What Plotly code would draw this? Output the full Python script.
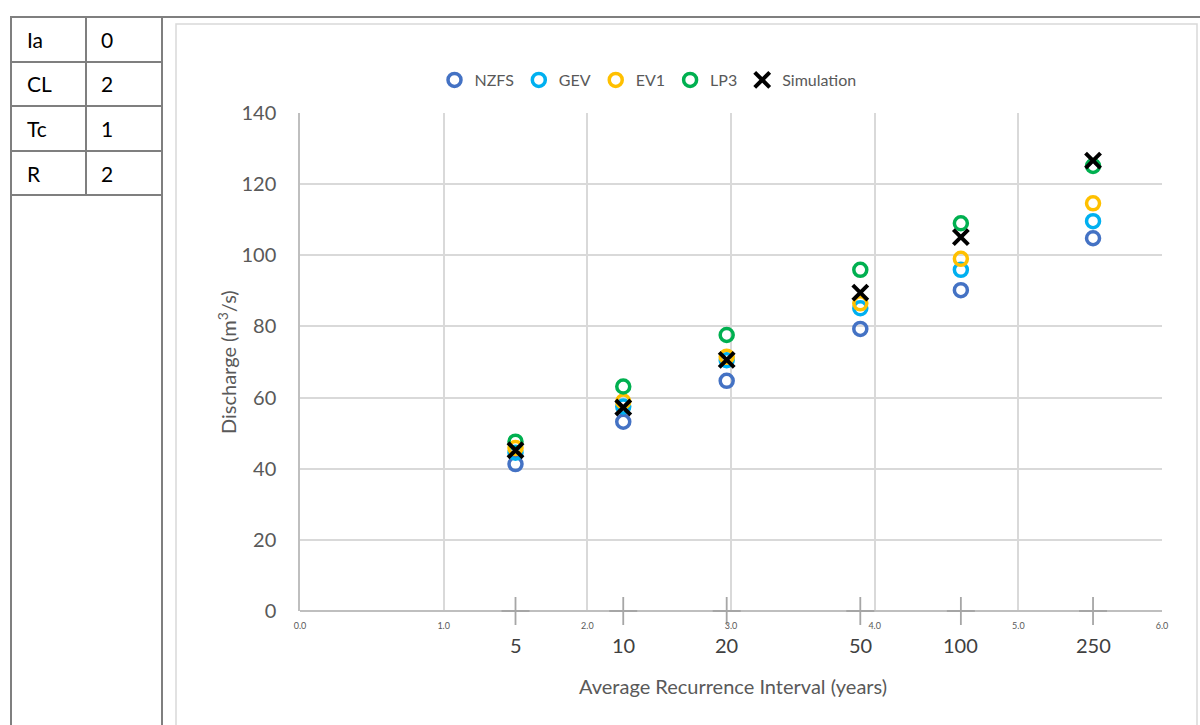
import plotly.graph_objects as go

# ---- data ----
ari_labels = ["5", "10", "20", "50", "100", "250"]
x_pos = [1.50, 2.25, 2.97, 3.90, 4.60, 5.52]   # reduced variate positions
nzfs = [41.3, 53.2, 64.7, 79.3, 90.2, 104.8]
gev = [44.5, 57.5, 70.5, 85.1, 95.9, 109.6]
ev1 = [45.8, 58.9, 71.5, 86.5, 99.0, 114.6]
lp3 = [47.6, 63.1, 77.6, 95.9, 109.0, 125.1]
simulation = [45.2, 57.2, 70.6, 89.5, 105.1, 126.6]
baseline = [0, 0, 0, 0, 0, 0]

table_keys = ["Ia", "CL", "Tc", "R"]
table_vals = ["0", "2", "1", "2"]

FONT = "Lato"
W, H = 1200, 725
L, R, T, B = 300, 1162, 113, 611

def px(xp):
    return (xp - L) / (R - L)

def py(yp):
    return (B - yp) / (B - T)

fig = go.Figure()

# ARI tick marks on the baseline
fig.add_trace(go.Scatter(
    x=x_pos, y=baseline, mode="markers",
    marker=dict(symbol="cross-thin", size=20, line=dict(color="#A6A6A6", width=1.8)),
    showlegend=False, cliponaxis=False, hoverinfo="skip"))

series = [("NZFS", nzfs, "#4472C4"), ("GEV", gev, "#00B0F0"),
          ("EV1", ev1, "#FFC000"), ("LP3", lp3, "#00B050")]
for name, vals, col in series:
    fig.add_trace(go.Scatter(
        x=x_pos, y=vals, mode="markers", name=name,
        marker=dict(symbol="circle-open", size=13, color=col, line=dict(color=col, width=3.5)),
        cliponaxis=False))

fig.add_trace(go.Scatter(
    x=x_pos, y=simulation, mode="markers", name="Simulation",
    marker=dict(symbol="x-thin-open", size=15, color="black", line=dict(color="black", width=4)),
    cliponaxis=False))

shapes = []
gray = "#7F7F7F"
shapes.append(dict(type="line", xref="paper", yref="paper", x0=px(10), x1=px(1200), y0=py(17), y1=py(17),
                   line=dict(color=gray, width=2)))
shapes.append(dict(type="line", xref="paper", yref="paper", x0=px(11), x1=px(11), y0=py(17), y1=py(725),
                   line=dict(color=gray, width=2)))
shapes.append(dict(type="line", xref="paper", yref="paper", x0=px(162), x1=px(162), y0=py(17), y1=py(725),
                   line=dict(color=gray, width=2)))
shapes.append(dict(type="line", xref="paper", yref="paper", x0=px(86), x1=px(86), y0=py(17), y1=py(195),
                   line=dict(color=gray, width=2)))
for yl in [62, 106, 151, 195]:
    shapes.append(dict(type="line", xref="paper", yref="paper", x0=px(10), x1=px(162), y0=py(yl), y1=py(yl),
                       line=dict(color=gray, width=2)))
shapes.append(dict(type="rect", xref="paper", yref="paper", x0=px(176), x1=px(1197), y0=py(24), y1=py(740),
                   line=dict(color="#D9D9D9", width=1.5), layer="below"))

annotations = []
row_centers = [40, 84, 129, 173]
for k, v, yc in zip(table_keys, table_vals, row_centers):
    annotations.append(dict(x=px(25), y=py(yc), xref="paper", yref="paper", text=k, showarrow=False,
                            xanchor="left", yanchor="middle", font=dict(size=21, color="#000000", family=FONT)))
    annotations.append(dict(x=px(99), y=py(yc), xref="paper", yref="paper", text=v, showarrow=False,
                            xanchor="left", yanchor="middle", font=dict(size=21, color="#000000", family=FONT)))

# ARI labels below the baseline
for xv, lab in zip(x_pos, ari_labels):
    annotations.append(dict(x=xv, y=0, xref="x", yref="y", text=lab, showarrow=False,
                            xanchor="center", yanchor="middle", yshift=-34,
                            font=dict(size=20, color="#404040", family=FONT)))

annotations.append(dict(x=px(733), y=py(686), xref="paper", yref="paper", text="Average Recurrence Interval (years)",
                        showarrow=False, xanchor="center", yanchor="middle",
                        font=dict(size=20, color="#595959", family=FONT)))
annotations.append(dict(x=px(227), y=py(362), xref="paper", yref="paper", text="Discharge (m<sup>3</sup>/s)",
                        showarrow=False, xanchor="center", yanchor="middle", textangle=-90,
                        font=dict(size=20, color="#595959", family=FONT)))

fig.update_layout(
    width=W, height=H,
    margin=dict(l=L, r=W - R, t=T, b=H - B),
    plot_bgcolor="white", paper_bgcolor="white",
    shapes=shapes, annotations=annotations,
    legend=dict(orientation="h", x=px(648), xanchor="center", y=py(80), yanchor="middle",
                font=dict(size=16, color="#595959", family=FONT),
                itemsizing="trace", itemwidth=30, tracegroupgap=0),
    xaxis=dict(range=[0, 6], tickmode="array", tickvals=[0, 1, 2, 3, 4, 5, 6],
               ticktext=["0.0", "1.0", "2.0", "3.0", "4.0", "5.0", "6.0"],
               tickfont=dict(size=9, color="#595959", family=FONT),
               showgrid=True, gridcolor="#D9D9D9", gridwidth=1.5,
               showline=False, zeroline=False, ticks="", ticklabelstandoff=8),
    yaxis=dict(range=[0, 140], tickmode="array", tickvals=[0, 20, 40, 60, 80, 100, 120, 140],
               tickfont=dict(size=20, color="#595959", family=FONT),
               showgrid=True, gridcolor="#D9D9D9", gridwidth=1.5,
               zeroline=True, zerolinecolor="#BFBFBF", zerolinewidth=1.5,
               showline=True, linecolor="#BFBFBF", linewidth=1.5,
               ticks="", ticklabelstandoff=18),
)

fig.write_html("out.html", config={"displayModeBar": False},
               post_script="document.body.style.margin='0';document.body.style.overflow='hidden';")
